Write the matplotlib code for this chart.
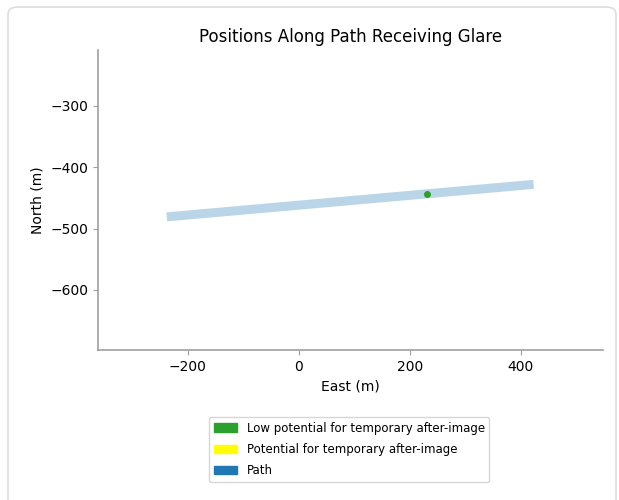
import matplotlib.pyplot as plt
from matplotlib.patches import Patch, FancyBboxPatch

# path end points (east, north) in metres
path_east = [-238, 423]
path_north = [-481, -428]

# positions along the path receiving glare
glare_east = [230]
glare_north = [-444]

legend_labels = ['Low potential for temporary after-image',
                 'Potential for temporary after-image',
                 'Path']
legend_colors = ['tab:green', 'yellow', 'tab:blue']

DPI = 100
fig = plt.figure(figsize=(619 / DPI, 500 / DPI), dpi=DPI)

# card-style border round the figure
border = FancyBboxPatch((8 / 619, -0.05), 608 / 619, 1.036,
                        boxstyle='round,pad=0,rounding_size=0.015',
                        transform=fig.transFigure, facecolor='white',
                        edgecolor='#dddddd', linewidth=1.2, zorder=-10)
fig.patches.append(border)

ax = fig.add_axes([98 / 619, 0.30, 505 / 619, 0.60])
ax.plot(path_east, path_north, color='tab:blue', alpha=0.3, linewidth=6.5,
        solid_capstyle='butt')
ax.plot(glare_east, glare_north, 'o', color='tab:green', markersize=4)

ax.set_xlim(-362, 548)
ax.set_ylim(-698, -209)
ax.set_xticks([-200, 0, 200, 400])
ax.set_yticks([-300, -400, -500, -600])

ax.set_title('Positions Along Path Receiving Glare', fontsize=12)
ax.set_xlabel('East (m)')
ax.set_ylabel('North (m)')

for side in ['top', 'right']:
    ax.spines[side].set_visible(False)
for side in ['left', 'bottom']:
    ax.spines[side].set_color('#a0a0a0')
    ax.spines[side].set_linewidth(1.2)
ax.tick_params(color='#a0a0a0')

handles = [Patch(color=c, label=l) for c, l in zip(legend_colors, legend_labels)]
fig.legend(handles=handles, loc='upper center', bbox_to_anchor=(0.564, 0.178),
           fontsize=8.5, labelspacing=0.7, frameon=True)

fig.savefig('out.png', dpi=DPI)
